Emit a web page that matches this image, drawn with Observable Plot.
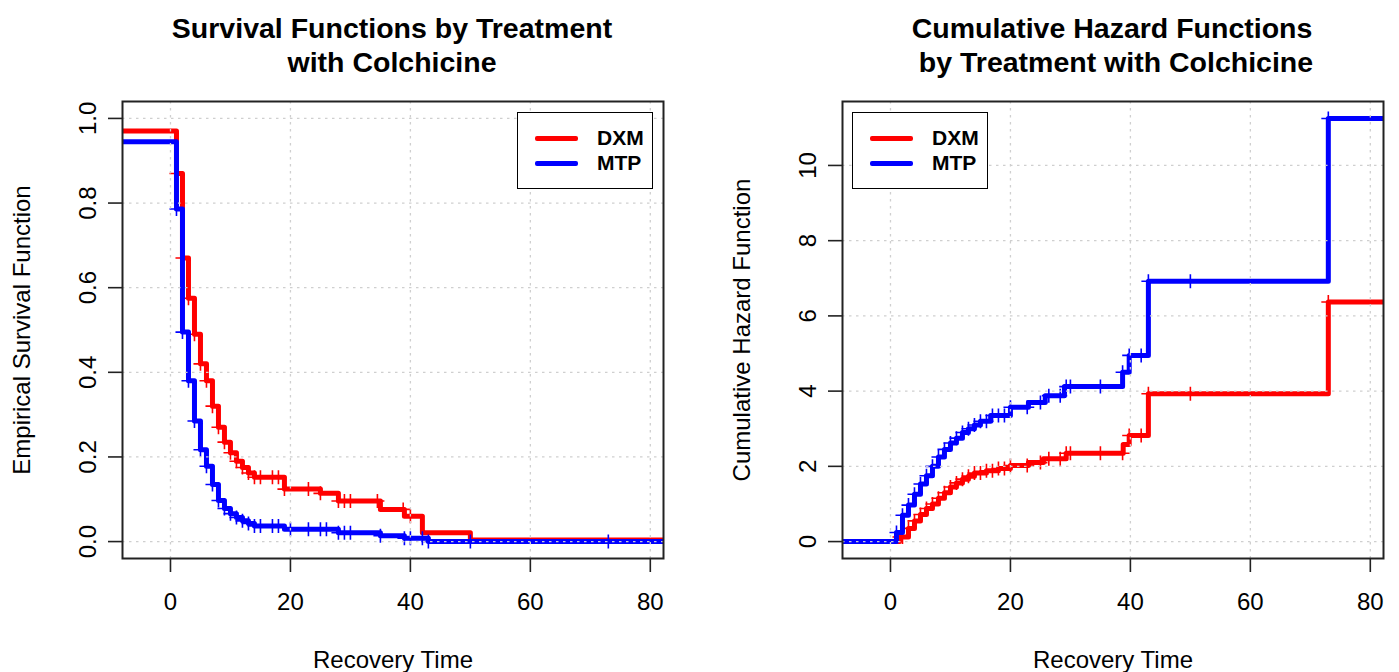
<!DOCTYPE html>
<html><head><meta charset="utf-8">
<script src="https://cdn.jsdelivr.net/npm/d3@7"></script>
<script src="https://cdn.jsdelivr.net/npm/@observablehq/plot@0.6"></script>
<style>
html,body{margin:0;padding:0;background:#fff;}
body{width:1399px;height:672px;overflow:hidden;position:relative;font-family:"Liberation Sans",Arial,Helvetica,sans-serif;}
.title{position:absolute;font-weight:bold;font-size:28.5px;line-height:34px;text-align:center;white-space:pre;color:#000;width:700px;}
.panel{position:absolute;top:0;}
.legend{position:absolute;border:1.5px solid #000;background:#fff;box-sizing:border-box;width:136px;height:77px;}
.legend .row{position:absolute;left:0;height:24px;display:flex;align-items:center;}
.legend .swatch{width:43px;height:5px;border-radius:2px;margin-left:17px;margin-right:19px;}
.legend .lab{font-weight:bold;font-size:21px;color:#000;}
</style></head><body>
<script>
// ---------- data ----------
const groups = ["DXM", "MTP"];
const groupColors = ["#ff0000", "#0000ff"];
const xTicks = [0, 20, 40, 60, 80];
const xDomain = [-8, 82.2];
const survYTicks = [0, 0.2, 0.4, 0.6, 0.8, 1.0];
const survYDomain = [-0.04, 1.04];
const hazYTicks = [0, 2, 4, 6, 8, 10];
const hazYDomain = [-0.45, 11.7];

const titleSurv = "Survival Functions by Treatment\nwith Colchicine";
const titleHaz = "Cumulative Hazard Functions\n by Treatment with Colchicine";
const xLabel = "Recovery Time";
const yLabelSurv = "Empirical Survival Function";
const yLabelHaz = "Cumulative Hazard Function";

// Survival step functions
const survDxmTime  = [-8, 1, 2, 3, 4, 5, 6, 7, 8, 9, 10, 11, 12, 13, 14, 19, 25, 28, 35, 39, 42, 50, 82.2];
const survDxmValue = [0.97, 0.87, 0.67, 0.575, 0.49, 0.42, 0.38, 0.32, 0.27, 0.235, 0.21, 0.19, 0.175, 0.162, 0.152, 0.124, 0.114, 0.096, 0.076, 0.06, 0.021, 0.004, 0.004];
const survMtpTime  = [-8, 1, 2, 3, 4, 5, 6, 7, 8, 9, 10, 11, 12, 13, 14, 19, 28, 35, 39, 43, 82.2];
const survMtpValue = [0.945, 0.786, 0.495, 0.38, 0.285, 0.217, 0.178, 0.135, 0.097, 0.078, 0.066, 0.057, 0.049, 0.043, 0.037, 0.029, 0.021, 0.014, 0.008, 0.0, 0.0];
const survDxmCensor = [1, 2, 3, 4, 5, 6, 7, 8, 9, 10, 11, 12, 13, 14, 15, 17, 18, 19, 23, 25, 28, 29, 30, 34.5, 38.8, 40];
const survMtpCensor = [1, 2, 3, 4, 5, 6, 7, 8, 9, 10, 11, 12, 13, 14, 15, 17, 18, 20, 23, 25, 26, 28, 29, 30, 35, 39, 40, 42, 43, 50, 73];

// Cumulative hazard step functions
const hazDxmTime  = [-8, 1.5, 3, 4, 5, 6, 7, 8, 9, 10, 11, 12, 13, 14, 16, 18, 20, 23, 25.5, 29.3, 38.8, 39.8, 43, 73, 82.2];
const hazDxmValue = [0, 0.12, 0.35, 0.55, 0.72, 0.88, 1.0, 1.15, 1.3, 1.45, 1.56, 1.66, 1.74, 1.82, 1.88, 1.94, 2.02, 2.1, 2.2, 2.35, 2.58, 2.82, 3.93, 6.37, 6.37];
const hazMtpTime  = [-8, 1, 2, 3, 4, 5, 6, 7, 8, 9, 10, 11, 12, 13, 14, 15, 16.7, 20, 23, 25.8, 29, 38.7, 39.8, 43, 73, 82.2];
const hazMtpValue = [0, 0.24, 0.7, 0.97, 1.26, 1.53, 1.75, 2.0, 2.25, 2.45, 2.62, 2.75, 2.9, 3.0, 3.1, 3.2, 3.35, 3.57, 3.7, 3.88, 4.12, 4.5, 4.95, 6.92, 11.25, 11.25];
const hazDxmCensor = [1.5, 2, 3, 4, 5, 6, 7, 8, 9, 10, 11, 12, 13, 14, 15, 16, 17, 18, 19, 20, 22.8, 25, 26.4, 28.3, 29.3, 30, 35, 38.7, 39.8, 41.8, 43, 50, 73];
const hazMtpCensor = [1, 2, 3, 4, 5, 6, 7, 8, 9, 10, 11, 12, 13, 14, 15, 16, 17, 18, 19, 20, 22.8, 25, 26.4, 28.3, 29.3, 30, 35, 38.7, 39.8, 41.8, 43, 50, 73];

// ---------- helpers ----------
const FONT = '"Liberation Sans", Arial, Helvetica, sans-serif';
function steps(times, values) { return times.map((t, i) => ({t, v: values[i]})); }
function censorPoints(ctimes, times, values) {
  return ctimes.map(c => {
    let i = 0;
    for (let k = 0; k < times.length; k++) if (times[k] <= c) i = k;
    return {t: c, v: values[i]};
  });
}
const plusSymbol = {
  draw(ctx, size) {
    const r = Math.sqrt(size / Math.PI);
    ctx.moveTo(-r, 0); ctx.lineTo(r, 0);
    ctx.moveTo(0, -r); ctx.lineTo(0, r);
  }
};

function makePanel({width, marginLeft, marginRight, yDomain, yTicks, yFmt, yLabel, series}) {
  const marks = [];
  series.forEach(s => {
    marks.push(Plot.line(s.steps, {x: "t", y: "v", curve: "step-after", stroke: s.color, strokeWidth: 5, clip: true}));
    marks.push(Plot.dot(s.censor, {x: "t", y: "v", symbol: plusSymbol, r: 7, fill: "none", stroke: s.color, strokeWidth: 1.6}));
  });
  marks.push(Plot.ruleX(xTicks, {stroke: "#cfcfcf", strokeWidth: 1.3, strokeDasharray: "2.5,4.5"}));
  marks.push(Plot.ruleY(yTicks, {stroke: "#cfcfcf", strokeWidth: 1.3, strokeDasharray: "2.5,4.5"}));
  marks.push(Plot.frame({stroke: "#222", strokeWidth: 2}));
  marks.push(Plot.axisX({ticks: xTicks, tickSize: 14, tickPadding: 20, stroke: "#222", strokeWidth: 1.6, fontSize: 24, label: null, fill: "#000"}));
  marks.push(Plot.axisY({ticks: yTicks, tickSize: 14, tickFormat: () => "", stroke: "#222", strokeWidth: 1.6, label: null}));
  marks.push(Plot.text(yTicks, {y: d => d, text: d => yFmt(d), frameAnchor: "left", dx: -34, rotate: -90, textAnchor: "middle", lineAnchor: "middle", fontSize: 24, fill: "#000"}));
  marks.push(Plot.text([xLabel], {text: d => d, frameAnchor: "bottom", dy: 102, textAnchor: "middle", lineAnchor: "middle", fontSize: 24, fill: "#000"}));
  marks.push(Plot.text([yLabel], {text: d => d, frameAnchor: "left", dx: -100, rotate: -90, textAnchor: "middle", lineAnchor: "middle", fontSize: 24, fill: "#000"}));
  return Plot.plot({
    width, height: 672,
    marginLeft, marginRight, marginTop: 101, marginBottom: 114,
    x: {domain: xDomain, ticks: xTicks},
    y: {domain: yDomain},
    style: {fontFamily: FONT, fontSize: "24px", background: "white", color: "#000"},
    marks
  });
}

const left = makePanel({
  width: 700, marginLeft: 122, marginRight: 37,
  yDomain: survYDomain, yTicks: survYTicks, yFmt: d3.format(".1f"), yLabel: yLabelSurv,
  series: [
    {color: groupColors[0], steps: steps(survDxmTime, survDxmValue), censor: censorPoints(survDxmCensor, survDxmTime, survDxmValue)},
    {color: groupColors[1], steps: steps(survMtpTime, survMtpValue), censor: censorPoints(survMtpCensor, survMtpTime, survMtpValue)}
  ]
});
const right = makePanel({
  width: 699, marginLeft: 142, marginRight: 16,
  yDomain: hazYDomain, yTicks: hazYTicks, yFmt: d3.format("d"), yLabel: yLabelHaz,
  series: [
    {color: groupColors[0], steps: steps(hazDxmTime, hazDxmValue), censor: censorPoints(hazDxmCensor, hazDxmTime, hazDxmValue)},
    {color: groupColors[1], steps: steps(hazMtpTime, hazMtpValue), censor: censorPoints(hazMtpCensor, hazMtpTime, hazMtpValue)}
  ]
});

function place(el, x) { const d = document.createElement("div"); d.className = "panel"; d.style.left = x + "px"; d.appendChild(el); document.body.appendChild(d); }
place(left, 0);
place(right, 700);

function addTitle(text, cx) {
  const d = document.createElement("div");
  d.className = "title"; d.textContent = text;
  d.style.left = (cx - 350) + "px"; d.style.top = "11px";
  document.body.appendChild(d);
}
addTitle(titleSurv, 392);
addTitle(titleHaz, 1112);

function addLegend(x, y) {
  const d = document.createElement("div");
  d.className = "legend"; d.style.left = x + "px"; d.style.top = y + "px";
  groups.forEach((g, i) => {
    const r = document.createElement("div");
    r.className = "row"; r.style.top = (13 + i * 25) + "px";
    const sw = document.createElement("div"); sw.className = "swatch"; sw.style.background = groupColors[i];
    const lb = document.createElement("span"); lb.className = "lab"; lb.textContent = g;
    r.appendChild(sw); r.appendChild(lb); d.appendChild(r);
  });
  document.body.appendChild(d);
}
addLegend(517, 112);
addLegend(852, 112);
</script>
</body></html>
